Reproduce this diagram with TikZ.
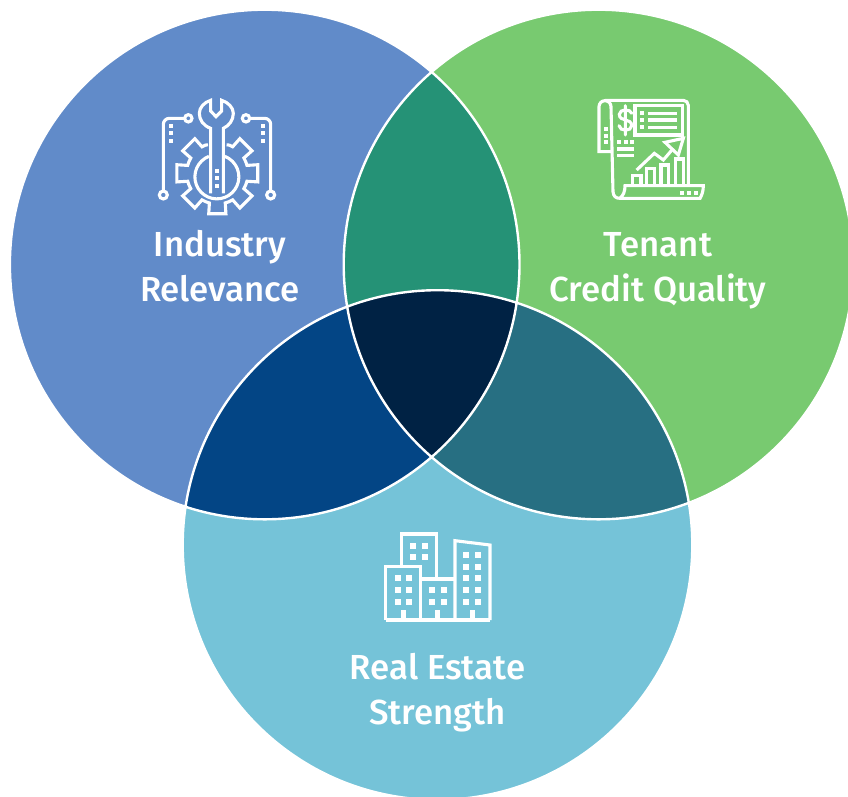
\documentclass[tikz,border=0pt]{standalone}
\usepackage{fontspec}
\setmainfont{Fira Sans}[BoldFont={Fira Sans Medium}]
\definecolor{cblue}{HTML}{618BC9}
\definecolor{cgreen}{HTML}{78CA70}
\definecolor{clight}{HTML}{75C3D8}
\definecolor{bg}{HTML}{259276}
\definecolor{bl}{HTML}{034585}
\definecolor{gl}{HTML}{276F82}
\definecolor{allc}{HTML}{002244}
\tikzset{
  label/.style={text=white,font=\bfseries\fontsize{34.8}{44.5}\selectfont,align=center,inner sep=0pt},
  ring/.style={draw=white,line width=2.4pt},
  ico/.style={draw=white,line width=3.1pt,line join=miter}
}
\newcommand{\sq}[3]{\fill[white] (#1-#3,#2-#3) rectangle (#1+#3,#2+#3);}
\begin{document}
\begin{tikzpicture}[x=1pt,y=-1pt]
\useasboundingbox (0,0) rectangle (848,796);
\clip (0,0) rectangle (848,796);
\coordinate (A) at (264.7,264.5);
\coordinate (B) at (598.5,264.5);
\coordinate (C) at (437.5,545);
\def\R{254.8}
\fill[cblue] (A) circle (\R);
\fill[cgreen] (B) circle (\R);
\fill[clight] (C) circle (\R);
\begin{scope}\clip (A) circle (\R); \fill[bg] (B) circle (\R); \fill[bl] (C) circle (\R);
  \clip (B) circle (\R); \fill[allc] (C) circle (\R);\end{scope}
\begin{scope}\clip (B) circle (\R); \fill[gl] (C) circle (\R);
  \clip (A) circle (\R); \fill[allc] (C) circle (\R);\end{scope}
\draw[ring] (A) circle (\R) (B) circle (\R) (C) circle (\R);

\node[label] (industry) at (220,266) {Industry\\Relevance};
\node[label] (tenant) at (658,271) {Tenant\\Credit Quality};
\node[label] (estate) at (437.5,692.5) {Real Estate\\Strength};

% gear and wrench icon
\begin{scope}[shift={(140,85)},x=0.3333pt,y=-0.3333pt]
  \draw[ico] (212,325) -- (212,130) .. controls (190,122) and (178,105) .. (178,85)
     .. controls (178,68) and (192,52) .. (212,46) -- (212,78) -- (228,95) -- (245,78) -- (245,46)
     .. controls (265,52) and (280,68) .. (280,85) .. controls (280,105) and (268,122) .. (250,130) -- (250,325);
  \draw[ico] (207,214) arc[start angle=249,end angle=-69,radius=66] ;
  \begin{scope}[shift={(232,265)}]
  \draw[ico] (-72:90) \foreach \a in {-45,0,45,90,135,180,225}{
     -- (\a-22:92) -- (\a-15:92) -- (\a-12:124) -- (\a+12:124) -- (\a+15:92) -- (\a+22:92)} -- (252:90);
  \end{scope}
  \draw[ico] (134,100) -- (88,100) arc[start angle=-90,end angle=-180,radius=18] -- (70,318);
  \draw[ico] (329,100) -- (374,100) arc[start angle=-90,end angle=0,radius=18] -- (392,318);
  \draw[ico] (145,100) circle (11) (318,100) circle (11) (70,330) circle (12) (392,330) circle (12);
  \sq{93}{122}{6}\sq{93}{145}{6}\sq{93}{167}{6}
  \sq{368}{122}{6}\sq{368}{145}{6}\sq{368}{167}{6}
  \sq{232}{258}{6}\sq{232}{280}{6}\sq{232}{302}{6}
\end{scope}

% report icon
\begin{scope}[shift={(585,85)},x=0.3333pt,y=-0.3333pt]
  \draw[ico] (78,200) -- (42,200) -- (42,65) arc[start angle=180,end angle=360,radius=18] -- (84,320)
     .. controls (85,333) and (92,340) .. (104,340) -- (345,340) .. controls (351,330) and (355,318) .. (355,302) -- (120,302)
     .. controls (120,320) and (115,332) .. (104,340);
  \draw[ico] (60,46) -- (295,46) arc[start angle=-90,end angle=0,radius=15] -- (310,302);
  \draw[ico] (150,62) rectangle (292,150);
  \draw[ico] (190,85) -- (275,85) (190,105) -- (275,105) (190,127) -- (275,127)
     (97,192) -- (148,192) (97,212) -- (148,212);
  \sq{172}{85}{6}\sq{172}{105}{6}\sq{172}{127}{6}
  \sq{103}{172}{6}\sq{122}{172}{6}\sq{141}{172}{6}
  \sq{62}{133}{6}\sq{62}{153}{6}\sq{62}{172}{6}
  \sq{292}{323}{6}\sq{312}{323}{6}\sq{332}{323}{6}
  \draw[ico,line cap=round] (140,85) .. controls (138,72) and (104,70) .. (103,88) .. controls (103,112) and (140,98) .. (140,122)
     .. controls (140,140) and (104,140) .. (102,122) (121,62) -- (121,150);
  \draw[ico] (155,255) -- (208,205) -- (235,225) -- (265,190);
  \draw[ico] (240,172) -- (295,160) -- (280,210) -- cycle;
  \draw[ico] (143,302) -- (143,272) -- (168,272) -- (168,302);
  \draw[ico] (185,302) -- (185,250) -- (208,250) -- (208,302);
  \draw[ico] (228,302) -- (228,240) -- (250,240) -- (250,302);
  \draw[ico] (272,302) -- (272,222) -- (295,222) -- (295,302);
\end{scope}

% buildings icon
\begin{scope}[shift={(375,520)},x=0.3333pt,y=-0.3333pt]
  \draw[ico] (32,300) -- (345,300);
  \draw[ico] (32,300) -- (32,140) -- (137,140) -- (137,300);
  \draw[ico] (80,140) -- (80,42) -- (185,42) -- (185,177);
  \draw[ico] (137,177) -- (240,177);
  \draw[ico] (240,300) -- (240,62) -- (345,75) -- (345,300);
  \foreach \x in {114,150} \foreach \y in {78,110} {\sq{\x}{\y}{9}}
  \foreach \x in {68,102} \foreach \y in {174,210,246} {\sq{\x}{\y}{9}}
  \foreach \x in {171,207} \foreach \y in {210,246} {\sq{\x}{\y}{9}}
  \foreach \x in {273,308} \foreach \y in {105,140,174,210,246} {\sq{\x}{\y}{9}}
  \foreach \x in {85,188,292} {\fill[white] (\x-8,270) rectangle (\x+8,300);}
\end{scope}
\end{tikzpicture}
\end{document}
